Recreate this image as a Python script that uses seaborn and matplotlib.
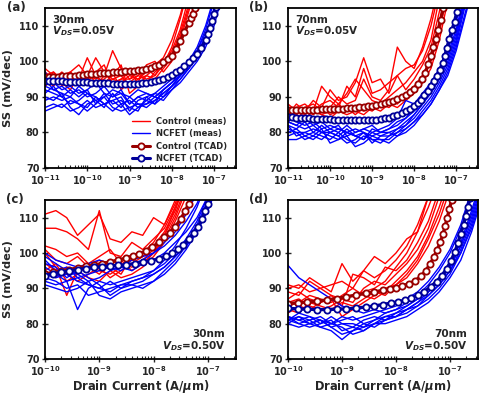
import numpy as np
import pandas as pd
import matplotlib
matplotlib.use("Agg")
import matplotlib.pyplot as plt
import seaborn as sns
from matplotlib.lines import Line2D
from matplotlib.ticker import LogLocator, FixedLocator

# ---------------- data (x given as log10 of drain current in A/um) ----------------
# measured-curve x grids
grid_ab = [-11, -10.8, -10.6, -10.4, -10.2, -10.0, -9.8, -9.6, -9.4, -9.2, -9.0, -8.8,
           -8.6, -8.4, -8.2, -8.0, -7.8, -7.6, -7.4, -7.2, -7.0, -6.8, -6.6]
grid_cd = [-10.0, -9.8, -9.6, -9.4, -9.2, -9.0, -8.8, -8.6, -8.4, -8.2, -8.0, -7.8,
           -7.6, -7.4, -7.2, -7.0, -6.8, -6.6, -6.4]

# (a) 30nm, VDS=0.05V
a_ctrl_meas = [
    [98, 96, 95, 97, 99, 96, 101, 97, 95, 94, 96, 95, 96, 98, 100, 103, 109, 118],
    [97, 95, 97, 94, 96, 95, 93, 96, 103, 98, 95, 97, 94, 97, 99, 104, 112, 121],
    [96, 94, 96, 97, 95, 101, 96, 94, 96, 99, 91, 93, 96, 95, 98, 101, 106, 114, 122],
    [94, 97, 93, 95, 96, 94, 97, 99, 93, 95, 97, 94, 99, 100, 97, 100, 105, 111, 119],
    [93, 95, 94, 92, 96, 97, 94, 95, 97, 92, 94, 96, 95, 96, 99, 102, 108, 116],
    [95, 93, 96, 95, 93, 95, 96, 93, 95, 96, 93, 95, 97, 99, 101, 106, 113, 122],
    [96, 97, 95, 96, 94, 96, 95, 97, 94, 95, 95, 96, 98, 96, 100, 102, 107, 115],
]
a_ncfet_meas = [
    [97, 94, 92, 93, 91, 92, 94, 91, 90, 92, 88, 90, 91, 90, 92, 94, 96, 98, 101, 105, 112, 121],
    [92, 91, 90, 88, 89, 91, 90, 88, 89, 90, 86, 89, 90, 91, 93, 95, 97, 100, 103, 108, 114, 123],
    [90, 89, 91, 87, 85, 88, 89, 87, 91, 88, 85, 87, 89, 91, 90, 92, 95, 98, 102, 107, 115, 124],
    [87, 88, 87, 89, 88, 86, 88, 90, 87, 86, 87, 88, 87, 89, 91, 93, 96, 99, 103, 109, 117],
    [86, 87, 88, 86, 87, 89, 87, 88, 86, 88, 89, 87, 88, 90, 92, 94, 97, 99, 102, 106, 113, 122],
    [93, 92, 93, 91, 92, 90, 91, 93, 90, 91, 90, 92, 91, 90, 89, 92, 94, 97, 100, 104, 110, 119],
    [95, 92, 91, 90, 93, 91, 89, 90, 92, 91, 88, 90, 89, 88, 90, 93, 95, 98, 101, 106, 113, 121],
    [89, 90, 89, 90, 88, 87, 90, 88, 89, 87, 90, 88, 88, 89, 91, 93, 96, 100, 104, 110, 118],
    [91, 93, 90, 92, 90, 92, 88, 91, 88, 89, 87, 86, 90, 88, 92, 94, 96, 99, 102, 107, 114, 122],
]
a_ctrl_tcad_x = [-11, -10.9, -10.8, -10.7, -10.6, -10.5, -10.4, -10.3, -10.2, -10.1, -10.0,
                 -9.9, -9.8, -9.7, -9.6, -9.5, -9.4, -9.3, -9.2, -9.1, -9.0, -8.9, -8.8, -8.7,
                 -8.6, -8.5, -8.4, -8.3, -8.2, -8.1, -8.0, -7.9, -7.8, -7.7, -7.6, -7.55, -7.5,
                 -7.45, -7.4]
a_ctrl_tcad_y = [95.5, 95.6, 95.6, 95.7, 95.8, 95.9, 96.0, 96.0, 96.1, 96.2, 96.3,
                 96.4, 96.5, 96.6, 96.7, 96.8, 96.9, 97.0, 97.1, 97.2, 97.3, 97.4, 97.5, 97.7,
                 97.9, 98.2, 98.6, 99.1, 99.8, 100.6, 101.6, 103.4, 105.6, 108.3, 110.8, 112.1,
                 113.4, 115.0, 116.5]
a_ncfet_tcad_x = [-11, -10.9, -10.8, -10.7, -10.6, -10.5, -10.4, -10.3, -10.2, -10.1, -10.0,
                  -9.9, -9.8, -9.7, -9.6, -9.5, -9.4, -9.3, -9.2, -9.1, -9.0, -8.9, -8.8, -8.7,
                  -8.6, -8.5, -8.4, -8.3, -8.2, -8.1, -8.0, -7.9, -7.8, -7.7, -7.6, -7.5, -7.4,
                  -7.3, -7.2, -7.15, -7.1, -7.05, -7.0, -6.95]
a_ncfet_tcad_y = [94.6, 94.5, 94.5, 94.4, 94.4, 94.3, 94.3, 94.2, 94.2, 94.1, 94.1,
                  94.0, 93.9, 93.9, 93.8, 93.8, 93.7, 93.7, 93.6, 93.6, 93.6, 93.6, 93.7, 93.8,
                  93.9, 94.1, 94.4, 94.7, 95.1, 95.6, 96.2, 96.9, 97.7, 98.6, 99.7, 100.9, 102.2,
                  103.8, 106.0, 107.6, 109.5, 111.3, 113.2, 115.3]

# (b) 70nm, VDS=0.05V
b_ctrl_meas = [
    [86, 87, 88, 86, 93, 90, 88, 91, 95, 92, 89, 88, 90, 92, 94, 97, 100, 106, 118],
    [85, 88, 86, 89, 87, 92, 89, 90, 94, 101, 94, 95, 91, 96, 92, 95, 99, 104, 114, 125],
    [87, 85, 87, 88, 86, 87, 90, 88, 89, 95, 90, 89, 92, 104, 100, 98, 104, 112, 122],
    [84, 86, 85, 87, 85, 86, 88, 86, 87, 86, 88, 87, 89, 88, 91, 93, 96, 101, 110, 124],
    [86, 84, 86, 85, 87, 85, 86, 87, 85, 87, 86, 88, 87, 89, 90, 92, 95, 100, 108, 120],
    [88, 86, 87, 86, 88, 89, 87, 93, 90, 98, 91, 92, 94, 96, 98, 99, 103, 110, 120],
    [83, 85, 84, 86, 85, 84, 86, 85, 86, 85, 87, 86, 88, 87, 89, 91, 94, 98, 106, 117],
]
b_ncfet_meas = [
    [84, 83, 82, 83, 81, 82, 81, 80, 81, 80, 79, 80, 81, 82, 84, 86, 89, 92, 96, 101, 108, 118],
    [82, 81, 83, 80, 82, 80, 79, 81, 79, 78, 80, 79, 80, 81, 83, 85, 88, 91, 95, 100, 107, 117],
    [78, 78, 79, 80, 79, 78, 80, 78, 77, 79, 78, 77, 79, 80, 82, 84, 87, 90, 94, 99, 106, 116],
    [81, 80, 80, 81, 80, 79, 78, 79, 76, 77, 79, 78, 78, 80, 81, 83, 86, 89, 93, 98, 105, 115],
    [83, 82, 81, 82, 83, 81, 80, 82, 80, 81, 80, 81, 82, 84, 89, 88, 91, 94, 98, 104, 112, 122],
    [80, 81, 79, 78, 80, 80, 79, 77, 78, 80, 77, 79, 79, 81, 82, 85, 88, 92, 97, 103, 111, 121],
    [82, 79, 80, 79, 78, 80, 81, 80, 79, 78, 81, 80, 80, 79, 81, 83, 85, 88, 92, 97, 104, 113, 122],
    [79, 80, 78, 79, 81, 77, 78, 80, 79, 80, 78, 78, 77, 79, 80, 82, 85, 88, 92, 96, 103, 112, 121],
    [83, 82, 84, 82, 80, 81, 82, 79, 80, 81, 82, 80, 81, 83, 84, 87, 90, 93, 97, 102, 109, 119],
]
b_ctrl_tcad_x = [-11, -10.9, -10.8, -10.7, -10.6, -10.5, -10.4, -10.3, -10.2, -10.1, -10.0,
                 -9.9, -9.8, -9.7, -9.6, -9.5, -9.4, -9.3, -9.2, -9.1, -9.0, -8.9, -8.8, -8.7,
                 -8.6, -8.5, -8.4, -8.3, -8.2, -8.1, -8.0, -7.9, -7.82, -7.74, -7.66, -7.6,
                 -7.54, -7.49, -7.43, -7.37, -7.31]
b_ctrl_tcad_y = [86.2, 86.2, 86.3, 86.3, 86.3, 86.4, 86.4, 86.4, 86.5, 86.5, 86.5,
                 86.6, 86.6, 86.7, 86.8, 86.9, 87.0, 87.1, 87.2, 87.4, 87.5, 87.7, 87.9, 88.2,
                 88.5, 88.8, 89.3, 89.9, 90.6, 91.4, 92.3, 93.5, 95.0, 96.8, 99.2, 101.4,
                 103.9, 106.2, 108.8, 111.7, 115.0]
b_ncfet_tcad_x = [-11, -10.9, -10.8, -10.7, -10.6, -10.5, -10.4, -10.3, -10.2, -10.1, -10.0,
                  -9.9, -9.8, -9.7, -9.6, -9.5, -9.4, -9.3, -9.2, -9.1, -9.0, -8.9, -8.8, -8.7,
                  -8.6, -8.5, -8.4, -8.3, -8.2, -8.1, -8.0, -7.92, -7.84, -7.76, -7.68, -7.6,
                  -7.52, -7.45, -7.38, -7.32, -7.27, -7.22, -7.16, -7.1, -7.04, -6.98, -6.93]
b_ncfet_tcad_y = [84.4, 84.3, 84.2, 84.1, 84.0, 84.0, 83.9, 83.8, 83.8, 83.7, 83.7,
                  83.6, 83.6, 83.5, 83.5, 83.4, 83.4, 83.4, 83.4, 83.5, 83.5, 83.6, 83.8, 84.0,
                  84.2, 84.5, 84.9, 85.4, 86.0, 86.6, 87.3, 88.2, 89.2, 90.4, 91.7, 93.0,
                  94.5, 96.0, 97.6, 99.6, 101.6, 103.8, 106.4, 108.8, 111.2, 114.0, 117.0]

# (c) 30nm, VDS=0.50V
c_ctrl_meas = [
    [111, 112, 110, 105, 108, 111, 104, 103, 106, 105, 110, 108, 114, 122],
    [107, 107, 106, 104, 101, 112, 100, 99, 103, 101, 104, 107, 113, 121],
    [102, 101, 99, 100, 97, 99, 101, 97, 96, 98, 101, 105, 111, 119],
    [100, 96, 88, 95, 96, 94, 97, 98, 95, 97, 100, 104, 110, 118],
    [97, 95, 94, 92, 94, 96, 93, 95, 97, 99, 102, 106, 112, 121],
    [94, 93, 96, 95, 93, 92, 95, 93, 94, 96, 99, 103, 109, 116],
    [101, 98, 97, 99, 96, 98, 96, 94, 99, 100, 103, 108, 115, 123],
    [95, 97, 92, 94, 97, 95, 94, 96, 98, 97, 100, 105, 113, 120],
]
c_ncfet_meas = [
    [99, 97, 95, 94, 92, 93, 95, 96, 95, 97, 98, 100, 103, 106, 110, 116],
    [100, 98, 97, 96, 97, 98, 97, 96, 98, 99, 100, 102, 105, 109, 114, 121],
    [96, 94, 92, 84, 90, 92, 91, 92, 93, 94, 95, 97, 100, 104, 109, 116],
    [93, 92, 90, 91, 88, 89, 90, 91, 92, 93, 94, 96, 99, 103, 108, 115],
    [91, 90, 89, 90, 92, 88, 87, 89, 90, 91, 92, 94, 97, 101, 106, 113, 121],
    [95, 93, 94, 92, 91, 90, 92, 90, 91, 92, 94, 96, 99, 102, 107, 114, 122],
    [97, 96, 93, 95, 93, 91, 88, 90, 92, 93, 95, 98, 102, 107, 113, 121],
    [92, 91, 92, 93, 91, 90, 89, 91, 91, 90, 92, 95, 98, 102, 106, 112, 120],
    [98, 95, 96, 93, 94, 95, 96, 95, 97, 98, 100, 103, 106, 111, 117],
]
c_ctrl_tcad_x = [-10.0, -9.85, -9.7, -9.55, -9.4, -9.25, -9.1, -8.95, -8.8, -8.65, -8.5,
                 -8.38, -8.26, -8.14, -8.02, -7.9, -7.8, -7.7, -7.6, -7.5, -7.42, -7.35, -7.28]
c_ctrl_tcad_y = [94.0, 94.5, 94.9, 95.3, 95.8, 96.2, 96.6, 97.0, 97.5, 98.0, 98.6,
                 99.2, 99.8, 100.6, 101.6, 103.0, 104.4, 105.8, 107.4, 109.6, 111.8, 114.0, 116.5]
c_ncfet_tcad_x = [-10.0, -9.85, -9.7, -9.55, -9.4, -9.25, -9.1, -8.95, -8.8, -8.65, -8.5,
                  -8.35, -8.2, -8.05, -7.9, -7.78, -7.66, -7.55, -7.45, -7.35, -7.26, -7.18,
                  -7.11, -7.05, -7.0, -6.95]
c_ncfet_tcad_y = [93.6, 94.1, 94.5, 94.9, 95.3, 95.6, 95.9, 96.1, 96.3, 96.5, 96.7,
                  97.0, 97.4, 97.8, 98.4, 99.1, 99.9, 101.0, 102.3, 103.9, 105.6, 107.4,
                  109.5, 111.8, 114.0, 116.5]

# (d) 70nm, VDS=0.50V
d_ctrl_meas = [
    [91, 90, 93, 91, 89, 97, 92, 95, 99, 97, 100, 104, 106, 116],
    [89, 88, 92, 90, 88, 85, 94, 93, 91, 96, 95, 98, 103, 109, 118],
    [87, 89, 87, 86, 88, 87, 86, 90, 92, 91, 94, 97, 101, 107, 116],
    [85, 86, 88, 87, 86, 88, 90, 88, 87, 89, 92, 95, 99, 105, 113, 122],
    [83, 85, 84, 86, 87, 82, 84, 86, 88, 90, 91, 93, 97, 102, 109, 118],
    [86, 87, 85, 84, 85, 87, 88, 89, 90, 92, 96, 100, 106, 113, 121],
    [90, 91, 89, 90, 91, 92, 90, 95, 93, 95, 98, 102, 108, 116],
    [84, 83, 86, 85, 84, 86, 85, 87, 89, 88, 91, 94, 98, 104, 111, 120],
]
d_ncfet_meas = [
    [96.5, 93, 91, 89, 87, 85, 84, 83, 84, 83, 84, 85, 87, 89, 92, 96, 102, 110, 120],
    [82, 81, 80, 79, 78, 75.5, 78, 80, 79, 81, 82, 84, 86, 88, 91, 95, 101, 109, 119],
    [81, 80, 81, 79, 80, 79, 77, 78, 80, 81, 82, 83, 85, 87, 90, 94, 100, 108, 118],
    [80, 82, 80, 81, 79, 80, 80, 79, 81, 82, 83, 85, 87, 90, 93, 97, 103, 112, 122],
    [82, 81, 82, 80, 81, 78, 79, 81, 82, 81, 83, 84, 86, 89, 92, 96, 102, 111, 121],
    [81, 83, 82, 81, 80, 81, 82, 80, 81, 83, 84, 86, 88, 91, 95, 100, 107, 116],
    [80, 79, 80, 81, 79, 77, 78, 79, 80, 80, 81, 82, 84, 86, 89, 93, 98, 106, 116],
    [82, 80, 79, 80, 82, 80, 79, 78, 80, 82, 82, 84, 85, 88, 91, 95, 100, 107, 117],
    [81, 82, 81, 82, 80, 82, 81, 82, 83, 84, 85, 87, 89, 92, 96, 101, 108, 118],
]
d_ctrl_tcad_x = [-10.0, -9.82, -9.64, -9.46, -9.28, -9.1, -8.92, -8.74, -8.56, -8.4, -8.25,
                 -8.12, -8.0, -7.88, -7.76, -7.64, -7.54, -7.45, -7.37, -7.3, -7.24, -7.18,
                 -7.13, -7.09, -7.05, -7.01, -6.97]
d_ctrl_tcad_y = [85.7, 85.9, 86.1, 86.4, 86.7, 87.1, 87.6, 88.1, 88.6, 89.0, 89.4,
                 89.8, 90.2, 90.7, 91.3, 92.2, 93.4, 95.0, 96.8, 98.8, 100.8, 103.0,
                 105.3, 107.6, 110.0, 112.5, 115.0]
d_ncfet_tcad_x = [-10.0, -9.82, -9.64, -9.46, -9.28, -9.1, -8.92, -8.74, -8.56, -8.4, -8.25,
                  -8.1, -7.96, -7.84, -7.72, -7.6, -7.48, -7.36, -7.25, -7.15, -7.06, -6.98,
                  -6.91, -6.85, -6.8, -6.75, -6.71, -6.67, -6.63]
d_ncfet_tcad_y = [84.3, 84.2, 84.1, 84.0, 84.0, 84.1, 84.2, 84.4, 84.7, 85.0, 85.4,
                  85.8, 86.2, 86.6, 87.3, 88.0, 89.0, 90.4, 91.9, 93.6, 95.6, 97.8,
                  100.3, 102.9, 105.5, 108.0, 110.5, 113.0, 115.5]

panel_letters = ["(a)", "(b)", "(c)", "(d)"]
lengths = ["30nm", "70nm", "30nm", "70nm"]
vds = ["0.05V", "0.05V", "0.50V", "0.50V"]
legend_labels = ["Control (meas)", "NCFET (meas)", "Control (TCAD)", "NCFET (TCAD)"]
yticks = [70, 80, 90, 100, 110]

# ---------------- style ----------------
sns.set_style("ticks")
plt.rcParams.update({
    "font.family": ["DejaVu Sans"],
    "font.weight": "bold",
    "axes.labelweight": "bold",
    "axes.linewidth": 1.3,
    "mathtext.fontset": "dejavusans",
})

RED = "#ff0000"
BLUE = "#0000ff"
DRED = "#990000"
DBLUE = "#000099"

W, H = 485, 394
fig = plt.figure(figsize=(W / 100, H / 100), dpi=100)
rects = [
    [45 / W, 1 - 168 / H, 191 / W, 160 / H],
    [288 / W, 1 - 168 / H, 190 / W, 160 / H],
    [45 / W, 1 - 359 / H, 191 / W, 159 / H],
    [288 / W, 1 - 359 / H, 190 / W, 159 / H],
]
panels = [
    (grid_ab, a_ctrl_meas, a_ncfet_meas, a_ctrl_tcad_x, a_ctrl_tcad_y, a_ncfet_tcad_x, a_ncfet_tcad_y, 1e-11),
    (grid_ab, b_ctrl_meas, b_ncfet_meas, b_ctrl_tcad_x, b_ctrl_tcad_y, b_ncfet_tcad_x, b_ncfet_tcad_y, 1e-11),
    (grid_cd, c_ctrl_meas, c_ncfet_meas, c_ctrl_tcad_x, c_ctrl_tcad_y, c_ncfet_tcad_x, c_ncfet_tcad_y, 1e-10),
    (grid_cd, d_ctrl_meas, d_ncfet_meas, d_ctrl_tcad_x, d_ctrl_tcad_y, d_ncfet_tcad_x, d_ncfet_tcad_y, 1e-10),
]

panel_label_pos = [(16, 8), (259, 8), (15, 199), (259, 199)]

for k, (grid, cm, nm, ctx, cty, ntx, nty, xmin) in enumerate(panels):
    ax = fig.add_axes(rects[k])
    for curve in cm:
        xs = [10.0 ** e for e in grid[:len(curve)]]
        sns.lineplot(x=xs, y=curve, ax=ax, color=RED, lw=1.0, sort=False,
                     estimator=None, legend=False)
    for curve in nm:
        xs = [10.0 ** e for e in grid[:len(curve)]]
        sns.lineplot(x=xs, y=curve, ax=ax, color=BLUE, lw=1.0, sort=False,
                     estimator=None, legend=False)
    for tx, ty, col in ((ctx, cty, DRED), (ntx, nty, DBLUE)):
        sns.lineplot(x=[10.0 ** e for e in tx], y=ty, ax=ax, color=col, lw=2.4,
                     marker="o", markersize=4.5, markerfacecolor="white",
                     markeredgecolor=col, markeredgewidth=1.3, sort=False,
                     estimator=None, legend=False)
    ax.set_xscale("log")
    ax.set_xlim(xmin, 3.3e-7)
    ax.set_ylim(70, 115)
    ax.yaxis.set_major_locator(FixedLocator(yticks))
    ax.xaxis.set_major_locator(LogLocator(base=10, numticks=20))
    ax.xaxis.set_minor_locator(LogLocator(base=10, subs=np.arange(2, 10), numticks=20))
    ax.tick_params(axis="both", which="major", direction="inout", length=5, width=1.0,
                   labelsize=7, pad=1.5, top=False, right=False)
    ax.tick_params(axis="x", which="major", pad=1.0)
    ax.tick_params(axis="x", which="minor", direction="in", length=2.2, width=0.8,
                   top=False)
    for lab in ax.get_xticklabels() + ax.get_yticklabels():
        lab.set_fontweight("bold")
    for s in ax.spines.values():
        s.set_linewidth(1.3)
        s.set_color("black")
    ax.set_xlabel("")
    ax.set_ylabel("")
    if k in (0, 2):
        ax.set_ylabel("SS (mV/dec)", fontsize=8.2, fontweight="bold")
        ax.yaxis.set_label_coords(-0.17, 0.5)
    if k in (2, 3):
        ax.set_xlabel(r"Drain Current (A/$\mu$m)", fontsize=8.3, fontweight="bold")
        ax.xaxis.set_label_coords(0.5, -0.12)
    vtxt = r"$\mathbfit{V}_{\mathbfit{DS}}$=" + vds[k]
    if k < 2:
        ax.text(0.038, 0.906, lengths[k], transform=ax.transAxes, ha="left",
                va="baseline", fontsize=7.5, fontweight="bold")
        ax.text(0.038, 0.834, vtxt, transform=ax.transAxes, ha="left",
                va="baseline", fontsize=7.5, fontweight="bold")
    else:
        ax.text(0.945, 0.14, lengths[k], transform=ax.transAxes, ha="right",
                va="baseline", fontsize=7.5, fontweight="bold")
        ax.text(0.945, 0.063, vtxt, transform=ax.transAxes, ha="right",
                va="baseline", fontsize=7.5, fontweight="bold")
    px, py = panel_label_pos[k]
    fig.text(px / W, 1 - py / H, panel_letters[k], ha="center", va="center",
             fontsize=8.5, fontweight="bold")
    if k == 0:
        handles = [
            Line2D([], [], color=RED, lw=1.0),
            Line2D([], [], color=BLUE, lw=1.0),
            Line2D([], [], color=DRED, lw=2.2, marker="o", markersize=4.5,
                   markerfacecolor="white", markeredgecolor=DRED, markeredgewidth=1.3),
            Line2D([], [], color=DBLUE, lw=2.2, marker="o", markersize=4.5,
                   markerfacecolor="white", markeredgecolor=DBLUE, markeredgewidth=1.3),
        ]
        leg = ax.legend(handles, legend_labels, loc="lower left",
                        bbox_to_anchor=(0.455, 0.03), frameon=False, fontsize=6,
                        handlelength=2.2, handletextpad=0.7, labelspacing=0.42,
                        borderpad=0, borderaxespad=0, markerscale=1.0)
        for t in leg.get_texts():
            t.set_fontweight("bold")

fig.savefig("out.png", dpi=100)
